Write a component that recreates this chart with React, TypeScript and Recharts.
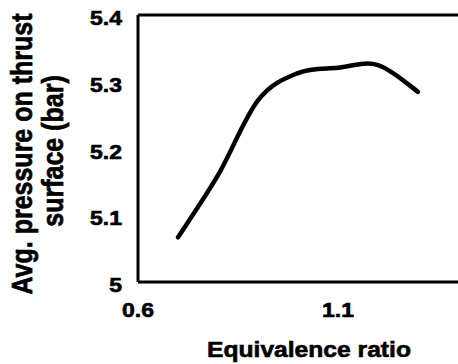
import React from "react";
import { LineChart, Line, XAxis, YAxis, ReferenceLine } from "recharts";

const ratios = [0.7, 0.8, 0.9, 1.0, 1.1, 1.2, 1.3];
const pressures = [5.067, 5.16, 5.272, 5.313, 5.321, 5.325, 5.285];
const xTicks = [0.6, 1.1];
const yTicks = [5, 5.1, 5.2, 5.3, 5.4];

const data = ratios.map((r, i) => ({ r, p: pressures[i] }));

const FONT = "'Liberation Sans', Arial, sans-serif";
const SX = 1.15;
const TXT = { fontFamily: FONT, fontWeight: "bold" as const, fill: "#000", stroke: "#000", strokeWidth: 0.6 };

// Excel-like smoothed line (Catmull-Rom converted to Bezier)
function excelCurve(context: any) {
  let pts: number[][] = [];
  return {
    areaStart() {},
    areaEnd() {},
    lineStart() {
      pts = [];
    },
    point(x: number, y: number) {
      pts.push([+x, +y]);
    },
    lineEnd() {
      if (!pts.length) return;
      context.moveTo(pts[0][0], pts[0][1]);
      for (let i = 0; i < pts.length - 1; i++) {
        const p0 = pts[i - 1] || pts[i];
        const p1 = pts[i];
        const p2 = pts[i + 1];
        const p3 = pts[i + 2] || pts[i + 1];
        context.bezierCurveTo(
          p1[0] + (p2[0] - p0[0]) / 6,
          p1[1] + (p2[1] - p0[1]) / 6,
          p2[0] - (p3[0] - p1[0]) / 6,
          p2[1] - (p3[1] - p1[1]) / 6,
          p2[0],
          p2[1]
        );
      }
    },
  };
}

const XTick = (props: any) => {
  const { x, y, payload } = props;
  return (
    <text transform={`translate(${x},${y + 35}) scale(${SX},1)`} textAnchor="middle" fontSize={20} {...TXT}>
      {payload.value}
    </text>
  );
};

const YTick = (props: any) => {
  const { y, payload } = props;
  return (
    <text transform={`translate(122,${y + 10}) scale(${SX},1)`} textAnchor="end" fontSize={20} {...TXT}>
      {payload.value}
    </text>
  );
};

const YTitle = () => (
  <g>
    <text transform={`translate(32,154) scale(${SX},1) rotate(-90)`} textAnchor="middle" fontSize={25} {...TXT}>
      Avg. pressure on thrust
    </text>
    <text transform={`translate(63,151) scale(${SX},1) rotate(-90)`} textAnchor="middle" fontSize={25} {...TXT}>
      surface (bar)
    </text>
  </g>
);

const XTitle = () => (
  <text transform={`translate(309,357) scale(1.12,1)`} textAnchor="middle" fontSize={22} {...TXT}>
    Equivalence ratio
  </text>
);

export default function App() {
  return (
    <div style={{ position: "absolute", left: 0, top: 0, background: "#fff" }}>
      <LineChart
        width={458}
        height={364}
        data={data}
        margin={{ top: 15, right: 0, left: 0, bottom: 52 }}
      >
        <XAxis
          dataKey="r"
          type="number"
          domain={[0.6, 1.4]}
          ticks={xTicks}
          allowDataOverflow
          tick={<XTick />}
          tickLine={false}
          tickSize={0}
          tickMargin={0}
          height={30}
          axisLine={{ stroke: "#000", strokeWidth: 3 }}
          label={<XTitle />}
        />
        <YAxis
          type="number"
          domain={[5, 5.4]}
          ticks={yTicks}
          allowDataOverflow
          width={138}
          tick={<YTick />}
          tickLine={false}
          tickSize={0}
          tickMargin={0}
          axisLine={{ stroke: "#000", strokeWidth: 3 }}
          label={<YTitle />}
        />
        <ReferenceLine y={5.4} stroke="#000" strokeWidth={3} />
        <Line
          dataKey="p"
          type={excelCurve as any}
          stroke="#000"
          strokeWidth={4.5}
          strokeLinecap="round"
          dot={false}
          isAnimationActive={false}
        />
      </LineChart>
    </div>
  );
}
